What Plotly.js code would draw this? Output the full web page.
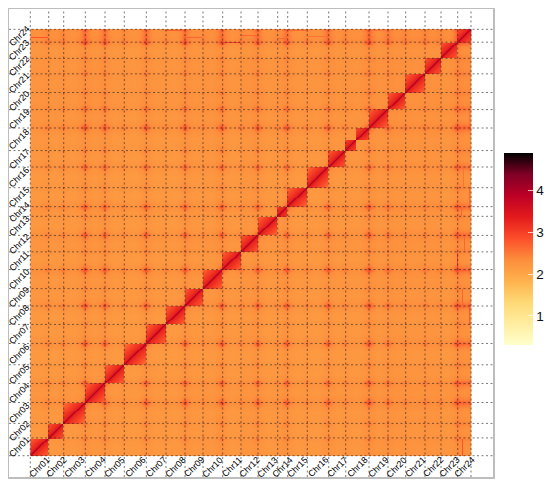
<!DOCTYPE html>
<html>
<head>
<meta charset="utf-8">
<script src="https://cdn.plot.ly/plotly-3.0.1.min.js"></script>
<style>html,body{margin:0;padding:0;background:#fff}#chart{width:550px;height:489px}</style>
</head>
<body>
<div id="chart"></div>
<script>
// All values below are estimates. The original
// matrix has far too many cells to read one by one, so the grid is assembled by
// table lookup from these readings (no random numbers, no per-cell reading).
var chromosomes = ['Chr01','Chr02','Chr03','Chr04','Chr05','Chr06','Chr07','Chr08','Chr09','Chr10','Chr11','Chr12',
                   'Chr13','Chr14','Chr15','Chr16','Chr17','Chr18','Chr19','Chr20','Chr21','Chr22','Chr23','Chr24'];
// cumulative chromosome ends along the matrix
var chromosomeEnds = [18.4,33.4,55,74.7,94,116,135.7,154.7,172.7,192.4,210.7,227.7,247.4,257.4,277,298.4,315.4,338.7,357.7,375.4,394.7,410.7,427.4,440.7];
// Chr18 shows two separate cis blocks split here
var cisSplits = [326.4];
// contact value by distance from the diagonal, inside a block
var cisByDistance = [4.0,3.55,3.34,3.27,3.22,3.18,3.14,3.1,3.06,3.02,2.99,2.96,2.92,2.88,2.84,2.8,2.76,2.72,2.68,2.64,2.6,2.56,2.52,2.48];
var transBase = 2.17;
// per chromosome trans offset
var transOffset = [.02,0,.01,.02,0,-.01,0,-.01,.01,.02,0,.03,0,.02,0,0,.01,.02,.03,.05,.05,.05,.02,.08];
// enrichment strength at each chromosome boundary (start of Chr01 ... end of Chr24)
var boundaryStrength = [.1,.35,.4,1,.9,.35,1,.3,1,.3,1,.35,.9,.3,.9,.35,.9,.35,1,.6,.3,.35,.3,1,.3];
var spotFalloff = [1,.72,.5,.35,.25,.18,.12,.08,.05,.03,.02,.01];
var bandFalloff = [1,.85,.7,.58,.48,.38,.3,.22,.15,.1,.05,.02];
var spotGain = .55, bandGain = .09;
// Chr24 is enriched right across its width
var chr24Profile = [1,.8,.6,.5,.45,.5,.6,.5,.5,.45,.5,.6,.8,.5];
// thin streaks seen in the Chr24 rows and columns
var streakStart = [0,135,193,211,248,258,278,338,155];
var streakEnd   = [18,153,210,227,257,277,297,357,172];
var streakPos   = [432,439,427,434,431,439,433,439,432];
var streakValue = [2.8,2.75,3.0,2.65,2.65,2.65,2.55,2.55,2.65];
var colorStops = ['#FFFFCC','#FFEDA0','#FED976','#FEB24C','#FD8D3C','#FC4E2A','#E31A1C','#BD0026','#800026','#000000'];
var colorTicks = [1,2,3,4];
var zMin = .3, zMax = 4.9;

var N = 441, i, j;
var starts = [0].concat(chromosomeEnds);
var cisEdges = chromosomeEnds.concat(cisSplits).sort(function(a,b){return a-b;});
function lookup(arr,d){ return d < arr.length ? arr[d] : 0; }
var chrOf = [], segOf = [], A = [], B = [], coord = [];
for (i = 0; i < N; i++) {
  var p = i + .5, c = 0, s = 0, k;
  while (c < 23 && p >= chromosomeEnds[c]) c++;
  while (s < cisEdges.length - 1 && p >= cisEdges[s]) s++;
  var lo = Math.abs(p - starts[c]), hi = Math.abs(starts[c+1] - p);
  k = lo < hi ? c : c + 1;
  var d = Math.floor(Math.min(lo,hi));
  var a = boundaryStrength[k] * lookup(spotFalloff,d);
  if (c === 23) a = Math.max(a, lookup(chr24Profile, Math.floor(p - starts[23])));
  chrOf.push(c); segOf.push(s); A.push(a); coord.push(p);
  B.push(boundaryStrength[k] * lookup(bandFalloff,d));
}
var z = [];
for (j = 0; j < N; j++) {
  var row = new Array(N);
  for (i = 0; i < N; i++) {
    if (segOf[i] === segOf[j]) {
      row[i] = cisByDistance[Math.min(Math.abs(i-j), cisByDistance.length-1)];
    } else {
      row[i] = transBase + transOffset[chrOf[i]] + transOffset[chrOf[j]] + bandGain*(B[i]+B[j]) + spotGain*A[i]*A[j];
    }
  }
  z.push(row);
}
streakPos.forEach(function(pos,n){
  for (var q = streakStart[n]; q < streakEnd[n]; q++) {
    z[pos][q] = Math.max(z[pos][q], streakValue[n]);
    z[q][pos] = Math.max(z[q][pos], streakValue[n]);
  }
});

var xLo = -21.3, xHi = 462.7, yLo = -22, yHi = 461.7;
var lineX = [], lineY = [];
starts.forEach(function(b){
  lineX.push(b,b,null); lineY.push(yLo,yHi,null);
  lineX.push(xLo,xHi,null); lineY.push(b,b,null);
});

var scale = colorStops.map(function(col,n){ return [n/(colorStops.length-1), col]; });
var heat = {type:'heatmap', x:coord, y:coord, z:z, zmin:zMin, zmax:zMax, colorscale:scale, hoverinfo:'skip', zsmooth:false,
  colorbar:{xref:'container', yref:'container', x:504/550, xanchor:'left', y:(489-360.5)/489, yanchor:'bottom',
    lenmode:'pixels', len:191.5, thicknessmode:'pixels', thickness:29, xpad:0, ypad:0, outlinewidth:0, borderwidth:0,
    tickmode:'array', tickvals:colorTicks, ticktext:colorTicks.map(String), ticks:'inside', ticklen:5, tickwidth:1, tickcolor:'rgba(255,255,255,.7)',
    tickfont:{family:'Liberation Sans', size:13.5, color:'#111'}}};
var grid = {type:'scatter', mode:'lines', x:lineX, y:lineY, hoverinfo:'skip', showlegend:false, connectgaps:false,
  line:{color:'rgba(40,40,40,.62)', width:1, dash:'2px,2.5px'}};

var annotations = [];
chromosomes.forEach(function(name,n){
  var mid = (starts[n]+starts[n+1])/2;
  annotations.push({x:mid, y:-11.4, xref:'x', yref:'y', text:name, showarrow:false, textangle:-45, xanchor:'center', yanchor:'middle',
    font:{family:'Liberation Sans', size:9, color:'#000'}});
  annotations.push({x:-11, y:mid, xref:'x', yref:'y', text:name, showarrow:false, textangle:-45, xanchor:'center', yanchor:'middle',
    font:{family:'Liberation Sans', size:9, color:'#000'}});
});

// the reference also has small white ticks on the left edge of the colour bar
var shapes = colorTicks.map(function(v){
  var py = (477 - (344.5 - (v - zMin) * 191.5 / (zMax - zMin))) / 468;
  return {type:'line', xref:'paper', yref:'paper', x0:(504-9)/484, x1:(509-9)/484, y0:py, y1:py, line:{color:'rgba(255,255,255,.7)', width:1}};
});

var axis = {showgrid:false, zeroline:false, showticklabels:false, ticks:'', showline:true, mirror:true, linecolor:'#bdbdbd', linewidth:1.5, fixedrange:true};
var layout = {width:550, height:489, margin:{l:9,r:57,t:9,b:12,pad:0}, paper_bgcolor:'#fff', plot_bgcolor:'#fff', showlegend:false,
  xaxis:Object.assign({range:[xLo,xHi]},axis), yaxis:Object.assign({range:[yLo,yHi]},axis), annotations:annotations, shapes:shapes};
Plotly.newPlot('chart',[heat,grid],layout,{staticPlot:true,displayModeBar:false});
</script>
</body>
</html>
